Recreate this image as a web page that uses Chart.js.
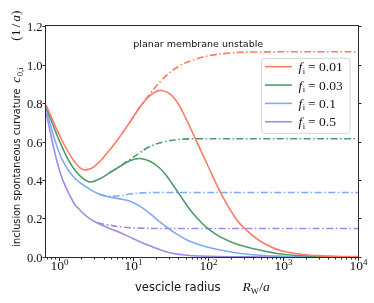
<!DOCTYPE html>
<html>
<head>
<meta charset="utf-8">
<script src="https://cdn.jsdelivr.net/npm/chart.js@4.4.0/dist/chart.umd.min.js"></script>
<style>
  html, body { margin: 0; padding: 0; background: #fff; }
  #chart { display: block; }
</style>
</head>
<body>
<canvas id="chart" width="374" height="303" style="width:374px;height:303px"></canvas>
<script>
// vesicle radius R_w/a and inclusion curvature c_0,i
const fLabels = ['0.01', '0.03', '0.1', '0.5'];

const r001 = [0.68, 1.05, 1.56, 2.12, 3.0, 4.87, 6.6, 8.95, 13.4, 17.5, 23.9, 35, 51, 68, 100, 150, 238, 323, 538, 1000, 2760, 10000];
const c001 = [0.79, 0.626, 0.506, 0.455, 0.47, 0.558, 0.626, 0.70, 0.80, 0.845, 0.865, 0.826, 0.714, 0.61, 0.47, 0.325, 0.195, 0.14, 0.074, 0.03, 0.007, 0.002];
const r001Flat = [8.95, 13.4, 24, 40, 60, 100, 200, 400, 10000];
const c001Flat = [0.70, 0.80, 0.92, 0.99, 1.02, 1.045, 1.06, 1.065, 1.066];

const r003 = [0.68, 1.05, 1.56, 2.47, 3.5, 4.87, 6.6, 8.95, 12.2, 16.6, 22, 28, 42, 63, 105, 194, 438, 1000, 3000, 10000];
const c003 = [0.78, 0.595, 0.465, 0.392, 0.405, 0.439, 0.47, 0.5, 0.512, 0.497, 0.465, 0.42, 0.32, 0.225, 0.14, 0.08, 0.04, 0.014, 0.003, 0.001];
const r003Flat = [4.87, 6.6, 8.95, 12, 16.6, 25, 38, 70, 10000];
const c003Flat = [0.439, 0.472, 0.506, 0.54, 0.574, 0.597, 0.61, 0.614, 0.614];

const r01 = [0.68, 1.05, 1.56, 2.63, 3.5, 4.43, 6.6, 9, 12.5, 16.6, 23, 30.7, 56.7, 129, 357, 1000, 10000];
const c01 = [0.766, 0.53, 0.42, 0.351, 0.327, 0.314, 0.302, 0.29, 0.262, 0.225, 0.18, 0.143, 0.082, 0.04, 0.013, 0.004, 0.001];
const r01Flat = [3.5, 4.43, 6.6, 9, 13, 25, 10000];
const c01Flat = [0.325, 0.317, 0.318, 0.327, 0.333, 0.335, 0.335];

const r05 = [0.68, 1.05, 1.56, 2.0, 2.63, 3.3, 4.4, 6.6, 10, 16.6, 30.7, 45, 77, 300, 10000];
const c05 = [0.75, 0.439, 0.288, 0.238, 0.198, 0.177, 0.155, 0.127, 0.095, 0.058, 0.022, 0.012, 0.005, 0.001, 0.0];
const r05Flat = [3.3, 4.43, 7, 12, 25, 10000];
const c05Flat = [0.178, 0.168, 0.156, 0.15, 0.148, 0.148];

const yTickVals = [0, 0.2, 0.4, 0.6, 0.8, 1.0, 1.2];
const xMajorVals = [1, 10, 100, 1000, 10000];
const xMajorExp = ['0', '1', '2', '3', '4'];

const colors = ['#ff7b66', '#4f9b6c', '#7eaaf4', '#a488e6'];
const dashDot = [7, 2.5, 1.5, 2.5];

function pts(xs, ys) {
  return xs.map((x, i) => ({ x: x, y: ys[i] }));
}

const solidSets = [[r001, c001], [r003, c003], [r01, c01], [r05, c05]];
const flatSets = [[r001Flat, c001Flat], [r003Flat, c003Flat], [r01Flat, c01Flat], [r05Flat, c05Flat]];

const datasets = [];
fLabels.forEach((f, i) => {
  datasets.push({
    label: 'f_i = ' + f,
    data: pts(solidSets[i][0], solidSets[i][1]),
    borderColor: colors[i],
    borderWidth: 1.6,
    pointRadius: 0,
    tension: 0.4,
    fill: false
  });
  datasets.push({
    label: 'planar ' + f,
    data: pts(flatSets[i][0], flatSets[i][1]),
    borderColor: colors[i],
    borderWidth: 1.6,
    borderDash: dashDot,
    pointRadius: 0,
    tension: 0.4,
    fill: false
  });
});

const SANS = '"DejaVu Sans"';
const SERIF = '"Liberation Serif"';

function fitFont(ctx, text, family, width) {
  ctx.font = '100px ' + family;
  return 100 * width / ctx.measureText(text).width;
}

const decor = {
  id: 'decor',
  afterDraw(chart) {
    const ctx = chart.ctx;
    const a = chart.chartArea;
    const xs = chart.scales.x;
    const ys = chart.scales.y;
    ctx.save();

    // frame
    ctx.strokeStyle = '#2a2a2a';
    ctx.lineWidth = 1;
    ctx.strokeRect(a.left - 0.5, a.top - 0.5, a.right - a.left + 1, a.bottom - a.top + 1);

    // y ticks (left and right, outward) and labels
    ctx.fillStyle = '#111';
    ctx.font = '12.5px ' + SERIF;
    ctx.textAlign = 'right';
    ctx.textBaseline = 'middle';
    yTickVals.forEach(v => {
      const py = Math.round(ys.getPixelForValue(v)) + 0.5;
      ctx.beginPath();
      ctx.moveTo(a.left - 1, py); ctx.lineTo(a.left - 3.5, py);
      ctx.moveTo(a.right + 1, py); ctx.lineTo(a.right + 3.5, py);
      ctx.stroke();
      ctx.fillText(v.toFixed(1), a.left - 3.5, py + 1);
    });

    // x ticks: minor
    ctx.beginPath();
    for (let d = 0.1; d < 10000; d *= 10) {
      for (let k = 2; k <= 9; k++) {
        const v = k * d;
        if (v < xs.min || v > xs.max) continue;
        const px = Math.round(xs.getPixelForValue(v)) + 0.5;
        ctx.moveTo(px, a.bottom + 1); ctx.lineTo(px, a.bottom + 2.5);
      }
    }
    ctx.stroke();

    // x ticks: major with 10^n labels
    ctx.textAlign = 'left';
    ctx.textBaseline = 'alphabetic';
    xMajorVals.forEach((v, i) => {
      const px = Math.round(xs.getPixelForValue(v)) + 0.5;
      ctx.beginPath();
      ctx.moveTo(px, a.bottom + 1); ctx.lineTo(px, a.bottom + 4);
      ctx.stroke();
      ctx.font = '13.5px ' + SERIF;
      const wb = ctx.measureText('10').width;
      ctx.font = '9px ' + SERIF;
      const we = ctx.measureText(xMajorExp[i]).width;
      const x0 = px - (wb + we) / 2;
      ctx.font = '13.5px ' + SERIF;
      ctx.fillText('10', x0, 270);
      ctx.font = '9px ' + SERIF;
      ctx.fillText(xMajorExp[i], x0 + wb, 265);
    });

    // x axis title
    ctx.fillStyle = '#111';
    let s = fitFont(ctx, 'vescicle radius', SANS, 85.7);
    ctx.font = s + 'px ' + SANS;
    ctx.fillText('vescicle radius', 135, 291);
    ctx.font = 'italic 13.5px ' + SERIF;
    ctx.fillText('R', 242.5, 291);
    let cx = 242.5 + ctx.measureText('R').width;
    ctx.font = '8.5px ' + SERIF;
    ctx.fillText('W', cx, 294);
    cx += ctx.measureText('W').width + 0.5;
    ctx.font = '13.5px ' + SERIF;
    ctx.fillText('/', cx, 291);
    cx += ctx.measureText('/').width;
    ctx.font = 'italic 13.5px ' + SERIF;
    ctx.fillText('a', cx, 291);

    // y axis title (rotated)
    ctx.save();
    ctx.translate(19.5, 246.7);
    ctx.rotate(-Math.PI / 2);
    s = fitFont(ctx, 'inclusion spontaneous curvature', SANS, 158.4);
    ctx.font = s + 'px ' + SANS;
    ctx.fillText('inclusion spontaneous curvature', 0, 0);
    ctx.font = 'italic 13.5px ' + SERIF;
    ctx.fillText('c', 164, 0);
    cx = 164 + ctx.measureText('c').width + 0.5;
    ctx.font = '8.5px ' + SERIF;
    ctx.fillText('0,i', cx, 3);
    ctx.font = '13.5px ' + SERIF;
    cx = 206;
    ctx.fillText('(1', cx, 0);
    cx += ctx.measureText('(1').width + 2;
    ctx.fillText('/', cx, 0);
    cx += ctx.measureText('/').width + 2;
    ctx.font = 'italic 13.5px ' + SERIF;
    ctx.fillText('a', cx, 0);
    cx += ctx.measureText('a').width;
    ctx.font = '13.5px ' + SERIF;
    ctx.fillText(')', cx, 0);
    ctx.restore();

    // annotation
    s = fitFont(ctx, 'planar membrane unstable', SANS, 130);
    ctx.font = s + 'px ' + SANS;
    ctx.fillText('planar membrane unstable', 133.3, 46.5);

    // legend
    const lx = 261.5, ly = 58.3, lw = 88.5, lh = 75, r = 3;
    ctx.beginPath();
    ctx.moveTo(lx + r, ly);
    ctx.arcTo(lx + lw, ly, lx + lw, ly + lh, r);
    ctx.arcTo(lx + lw, ly + lh, lx, ly + lh, r);
    ctx.arcTo(lx, ly + lh, lx, ly, r);
    ctx.arcTo(lx, ly, lx + lw, ly, r);
    ctx.closePath();
    ctx.fillStyle = 'rgba(255,255,255,0.85)';
    ctx.fill();
    ctx.strokeStyle = '#d4d4d4';
    ctx.lineWidth = 1;
    ctx.stroke();
    fLabels.forEach((f, i) => {
      const yy = 66.7 + i * 18.35;
      ctx.strokeStyle = colors[i];
      ctx.lineWidth = 1.6;
      ctx.beginPath();
      ctx.moveTo(265, yy); ctx.lineTo(292, yy);
      ctx.stroke();
      ctx.fillStyle = '#111';
      ctx.font = 'italic 13.5px ' + SERIF;
      ctx.fillText('f', 298.5, yy + 4.5);
      let tx = 298.5 + ctx.measureText('f').width + 0.5;
      ctx.font = '8.5px ' + SERIF;
      ctx.fillText('i', tx, yy + 7);
      tx += ctx.measureText('i').width + 3;
      ctx.font = '13.5px ' + SERIF;
      ctx.fillText('= ' + f, tx, yy + 4.5);
    });

    ctx.restore();
  }
};

new Chart(document.getElementById('chart').getContext('2d'), {
  type: 'line',
  data: { datasets: datasets },
  options: {
    responsive: false,
    animation: false,
    devicePixelRatio: 1,
    layout: { padding: { top: 26, right: 16, left: 0, bottom: 0 } },
    plugins: {
      legend: { display: false },
      tooltip: { enabled: false }
    },
    scales: {
      x: {
        type: 'logarithmic',
        min: 0.68,
        max: 10000,
        grid: { display: false },
        border: { display: false },
        ticks: { display: false },
        afterFit: scale => { scale.height = 46; }
      },
      y: {
        type: 'linear',
        min: 0,
        max: 1.2,
        grid: { display: false },
        border: { display: false },
        ticks: { display: false },
        afterFit: scale => { scale.width = 46; }
      }
    }
  },
  plugins: [decor]
});
</script>
</body>
</html>
